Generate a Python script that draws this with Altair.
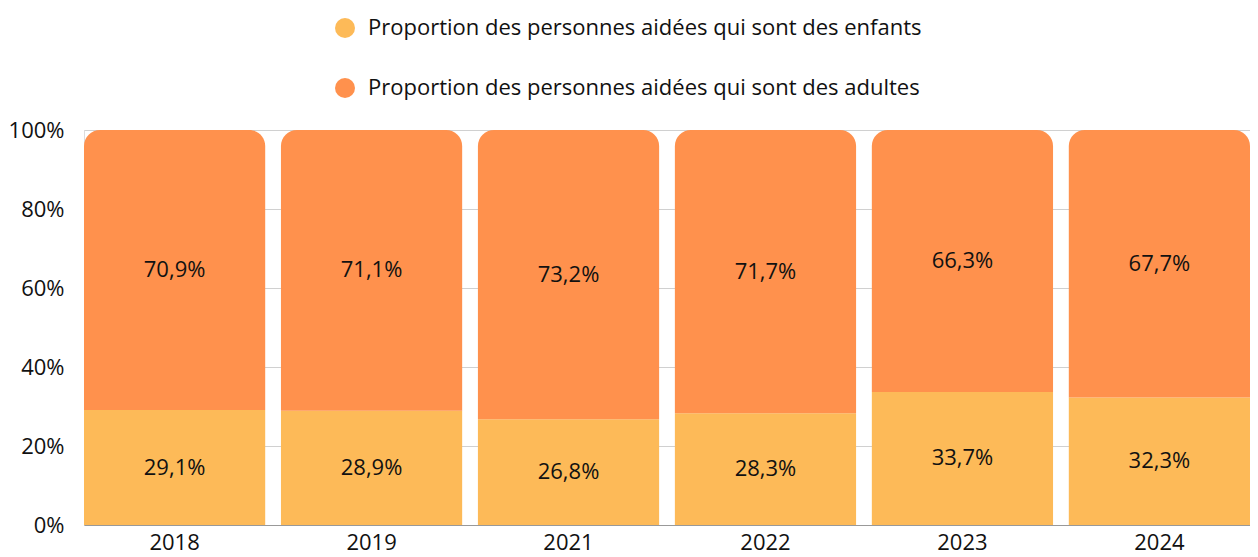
import altair as alt
import pandas as pd

years = ["2018", "2019", "2021", "2022", "2023", "2024"]
enfants = [29.1, 28.9, 26.8, 28.3, 33.7, 32.3]
adultes = [70.9, 71.1, 73.2, 71.7, 66.3, 67.7]
series = ["Proportion des personnes aidées qui sont des enfants",
          "Proportion des personnes aidées qui sont des adultes"]
colors = ["#FDBA58", "#FF914D"]

def fmt(v):
    return f"{v:.1f}".replace(".", ",") + "%"

rows = []
for y, e, a in zip(years, enfants, adultes):
    rows.append({"year": y, "serie": series[0], "start": 0, "end": e, "label": fmt(e)})
    rows.append({"year": y, "serie": series[1], "start": e, "end": e + a, "label": fmt(a)})
df = pd.DataFrame(rows)

FONT = "Open Sans"
FS = 22

x = alt.X("year:N", sort=years, title=None,
          scale=alt.Scale(paddingInner=0.08, paddingOuter=0),
          axis=alt.Axis(labelAngle=0, labelFontSize=FS, labelColor="#111", labelPadding=7,
                        ticks=False, domain=True, domainColor="#999", labelFont=FONT))
y = alt.Y("start:Q", title=None, scale=alt.Scale(domain=[0, 100], nice=False),
          axis=alt.Axis(values=[0, 20, 40, 60, 80, 100], labelExpr="datum.value + '%'",
                        labelFontSize=FS, labelColor="#111", labelPadding=20, ticks=False,
                        domain=False, gridColor="#d0d0d0", labelFont=FONT))
color = alt.Color("serie:N", scale=alt.Scale(domain=series, range=colors),
                  legend=alt.Legend(title=None, orient="none", legendX=250, legendY=-113,
                                    direction="vertical", symbolType="circle", symbolSize=400,
                                    labelFontSize=FS, labelColor="#111", labelFont=FONT,
                                    rowPadding=38, symbolStrokeWidth=0, labelOffset=12,
                                    labelLimit=900))

base = alt.Chart(df)
kids = base.transform_filter(alt.datum.serie == series[0]).mark_bar().encode(
    x=x, y=y, y2="end:Q", color=color)
adults = base.transform_filter(alt.datum.serie == series[1]).mark_bar(
    cornerRadiusTopLeft=16, cornerRadiusTopRight=16).encode(
    x=x, y=y, y2="end:Q", color=color)
text = base.transform_calculate(mid="(datum.start + datum.end) / 2").mark_text(
    fontSize=FS, color="#111", font=FONT).encode(
    x=alt.X("year:N", sort=years), y=alt.Y("mid:Q"), text="label:N")

chart = alt.layer(kids, adults, text).properties(
    width=1166, height=395,
    autosize=alt.AutoSizeParams(type="none"),
    padding={"left": 76, "top": 122, "right": 0, "bottom": 32},
).configure_view(stroke=None).configure(font=FONT)

chart.save("out.html", embed_options={"renderer": "svg", "actions": False})
